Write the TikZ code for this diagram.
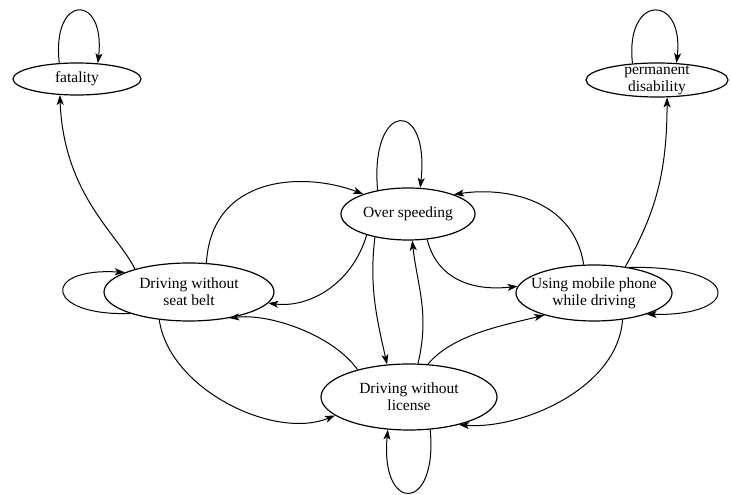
\documentclass[tikz,border=0pt]{standalone}
\usepackage{fontspec}
\setmainfont{Liberation Serif}
\usetikzlibrary{shapes.geometric,arrows.meta}
\begin{document}
\begin{tikzpicture}[x=1pt,y=1pt,
    state/.style={draw, ellipse, inner sep=0pt, line width=1.2pt},
    txt/.style={font=\fontsize{15.5}{17}\selectfont, align=center},
    edge/.style={line width=1pt, -{Stealth[length=10pt,width=7pt,inset=2.5pt]}}]
            \useasboundingbox (0,0) rectangle (732,495);
            \node[state, minimum width=128pt, minimum height=32pt, label={[txt]center:fatality}] (fat) at (77,416) {};
            \node[state, minimum width=142pt, minimum height=34pt, label={[txt]center:{permanent\\disability}}] (dis) at (657,415) {};
            \node[state, minimum width=134pt, minimum height=52pt, label={[txt]center:Over speeding}] (os) at (408,281) {};
            \node[state, minimum width=170pt, minimum height=58pt, label={[txt]center:{Driving without\\seat belt}}] (sb) at (189,203) {};
            \node[state, minimum width=156pt, minimum height=56pt, label={[txt]center:{Using mobile phone\\while driving}}] (mob) at (594,202) {};
            \node[state, minimum width=176pt, minimum height=66pt, label={[txt]center:{Driving without\\license}}] (lic) at (409,98) {};
            \draw[edge] (sb.157) .. controls +(-17,35) and +(4,-100) .. (fat.223);
            \draw[edge] (mob.40) .. controls +(28,50) and +(0,-80) .. (dis.300);
            \draw[edge] (sb.59) .. controls +(5,87) and +(-61,23) .. (os.156);
            \draw[edge] (os.207) .. controls +(-15,-50) and +(40,-5) .. (sb.-8);
            \draw[edge] (mob.110) .. controls +(-10,65) and +(52,8) .. (os.23);
            \draw[edge] (os.-53) .. controls +(10,-40) and +(-45,-5) .. (mob.175);
            \draw[edge] (os.215) .. controls +(-6,-50) and +(-10,45) .. (lic.124);
            \draw[edge] (lic.75) .. controls +(12,50) and +(5,-45) .. (os.-81);
            \draw[edge] (lic.152) .. controls +(-25,35) and +(40,5) .. (sb.-33);
            \draw[edge] (sb.223) .. controls +(10,-70) and +(-60,-25) .. (lic.194);
            \draw[edge] (lic.60) .. controls +(25,30) and +(-40,-10) .. (mob.204);
            \draw[edge] (mob.-43) .. controls +(-5,-70) and +(60,-5) .. (lic.-29);
            \draw[edge] (fat.138) .. controls +(-8,70) and +(8,70) .. (fat.37);
            \draw[edge] (dis.146) .. controls +(-8,70) and +(8,70) .. (dis.41);
            \draw[edge] (os.142) .. controls +(-8,90) and +(10,90) .. (os.65);
            \draw[edge] (sb.200) .. controls +(-85,-3) and +(-85,5) .. (sb.163);
            \draw[edge] (mob.36) .. controls +(116,2) and +(95,-2) .. (mob.-22);
            \draw[edge] (lic.-57) .. controls +(8,-84) and +(-8,-84) .. (lic.237);
        \end{tikzpicture}
\end{document}
